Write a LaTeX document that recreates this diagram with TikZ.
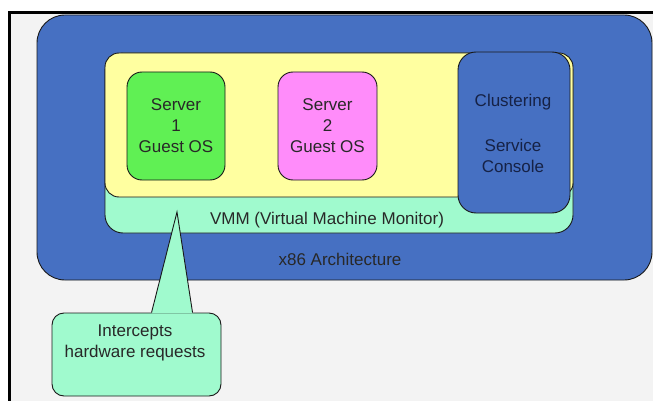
\documentclass[tikz,border=0pt]{standalone}
\usepackage{fontspec}
\setmainfont{Liberation Sans}
\usetikzlibrary{calc}
\definecolor{bgray}{RGB}{243,243,243}
\definecolor{archblue}{RGB}{70,112,194}
\definecolor{vmmaqua}{RGB}{160,250,206}
\definecolor{guestyellow}{RGB}{255,255,160}
\definecolor{srvgreen}{RGB}{96,240,84}
\definecolor{srvpink}{RGB}{255,140,250}
\definecolor{txt}{RGB}{40,40,40}
\definecolor{navytxt}{RGB}{22,34,70}
\definecolor{edge}{RGB}{25,25,25}
\tikzset{
  box/.style={draw=edge, line width=0.9pt, inner sep=0pt, rectangle},
  lbl/.style={font=\fontsize{17}{21}\selectfont, text=txt, inner sep=0pt, align=center},
}
\begin{document}
\begin{tikzpicture}[x=1pt,y=-1pt]
\useasboundingbox (0,0) rectangle (653,401);
\fill[white] (0,0) rectangle (653,401);
\fill[bgray] (10,13) rectangle (653,401);
\draw[black, line width=3pt] (9.5,401) -- (9.5,12.5) -- (653,12.5);
% outer architecture
\node[box, fill=archblue, rounded corners=28pt, minimum width=615pt, minimum height=265pt] (arch) at (344.5,147.5) {};
% VMM
\node[box, fill=vmmaqua, rounded corners=18pt, minimum width=468pt, minimum height=180pt] (vmm) at (339,143) {};
\node[box, fill=guestyellow, rounded corners=14pt, minimum width=468pt, minimum height=144pt] (guest) at (339,125) {};
% servers
\node[box, fill=srvgreen, rounded corners=15pt, minimum width=98pt, minimum height=108pt] (s1) at (176,126) {};
\node[box, fill=srvpink, rounded corners=15pt, minimum width=99pt, minimum height=108pt] (s2) at (327.5,126) {};
\node[box, fill=archblue, rounded corners=18pt, minimum width=112pt, minimum height=161pt] (sc) at (514,132.5) {};
% texts
\node[lbl] (s1t) at (176,126) {Server\\1\\Guest OS};
\node[lbl] (s2t) at (327.5,126) {Server\\2\\Guest OS};
\node[lbl, text=navytxt] (sct1) at (513,102) {Clustering};
\node[lbl, text=navytxt] (sct2) at (513,155.5) {Service\\Console};
\node[lbl] (vmmt) at (327,220) {VMM (Virtual Machine Monitor)};
\node[lbl] (archt) at (340,259) {x86 Architecture};
% callout
\node[box, fill=vmmaqua, rounded corners=12pt, minimum width=169pt, minimum height=83pt] (note) at (136.5,354.5) {};
\node[lbl] (notet) at (135,343) {Intercepts\\hardware requests};
\coordinate (tip) at (177,212);
\coordinate (bl) at ($(note.north west)+(100,0)$);
\coordinate (br) at ($(note.north west)+(141,0)$);
\fill[vmmaqua] ($(bl)+(0,0.9)$) -- (tip) -- ($(br)+(0,0.9)$) -- cycle;
\draw[edge, line width=0.9pt, line join=miter] (bl) -- (tip) -- (br);
\end{tikzpicture}
\end{document}
